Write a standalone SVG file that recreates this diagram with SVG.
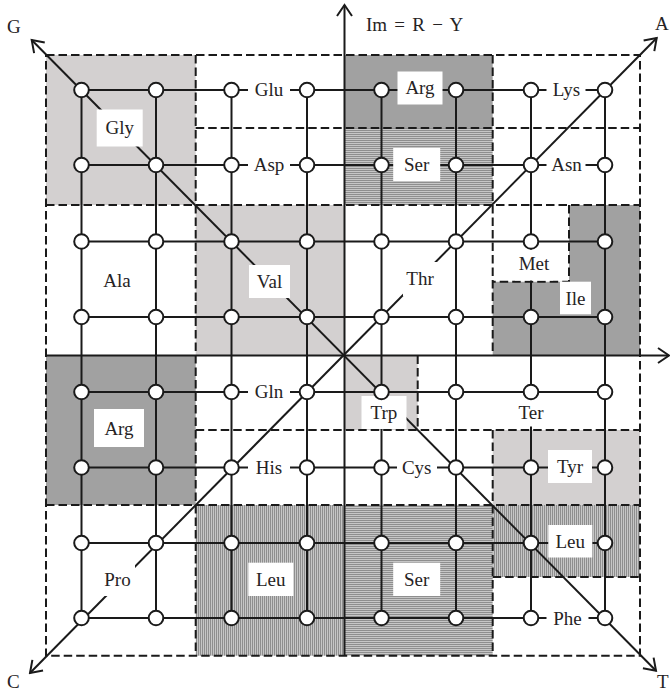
<svg xmlns="http://www.w3.org/2000/svg" width="670" height="693" viewBox="0 0 670 693">
  <style>
    .light { fill: #d3d0d0; }
    .dark { fill: #a1a1a1; }
    .hs { fill: url(#hstripe); }
    .vs { fill: url(#vstripe); }
    .dash { fill: none; stroke: #1a1a1a; stroke-width: 2; stroke-dasharray: 8.5 4; }
    .grid { fill: none; stroke: #1a1a1a; stroke-width: 2; }
    .axis { fill: none; stroke: #1a1a1a; stroke-width: 2; }
    .box { fill: #ffffff; }
    .lbl { font-family: "Liberation Serif", "Times New Roman", serif; font-size: 19px; fill: #262324; text-anchor: middle; }
    .ax { font-family: "Liberation Serif", "Times New Roman", serif; font-size: 19px; fill: #262324; }
    .node circle { fill: #ffffff; stroke: #1a1a1a; stroke-width: 2; }
  </style>
  <defs>
    <pattern id="hstripe" width="4" height="2" patternUnits="userSpaceOnUse">
      <rect width="4" height="2" fill="#c6c6c6"/>
      <rect width="4" height="1" fill="#8e8e8e"/>
    </pattern>
    <pattern id="vstripe" width="2" height="4" patternUnits="userSpaceOnUse">
      <rect width="2" height="4" fill="#c6c6c6"/>
      <rect width="1" height="4" fill="#8e8e8e"/>
    </pattern>
    <marker id="arr" viewBox="-13 -9 15 18" markerWidth="15" markerHeight="18" refX="0" refY="0" orient="auto-start-reverse" markerUnits="userSpaceOnUse">
      <path d="M-11,-7.5 L0,0 L-11,7.5" fill="none" stroke="#1a1a1a" stroke-width="2"/>
    </marker>
  </defs>

  <!-- shaded codon regions -->
  <g id="regions">
    <rect id="reg-gly" class="light" x="46" y="55" width="149.7" height="150"/>
    <rect id="reg-arg-top" class="dark" x="344.5" y="55" width="148.2" height="73"/>
    <rect id="reg-ser-top" class="hs" x="344.5" y="128" width="148.2" height="77"/>
    <rect id="reg-val" class="light" x="195.7" y="205" width="148.8" height="150.5"/>
    <polygon id="reg-ile" class="dark" points="569,205 640,205 640,355.5 492.7,355.5 492.7,281.7 569,281.7"/>
    <rect id="reg-arg-left" class="dark" x="46" y="355.5" width="149.7" height="149.5"/>
    <rect id="reg-trp" class="light" x="344.5" y="355.5" width="73.2" height="74.5"/>
    <rect id="reg-tyr" class="light" x="492.7" y="430" width="147.3" height="75"/>
    <rect id="reg-leu-bottom" class="vs" x="195.7" y="505" width="148.8" height="150.7"/>
    <rect id="reg-ser-bottom" class="hs" x="344.5" y="505" width="148.2" height="150.7"/>
    <rect id="reg-leu-right" class="vs" x="492.7" y="505" width="147.3" height="72"/>
  </g>

  <!-- dashed region borders -->
  <g id="borders">
    <path class="dash" d="M46 55 H640 V655.7 H46 Z"/>
    <path class="dash" d="M195.7 55 V655.7"/>
    <path class="dash" d="M492.7 55 V355.5 M492.7 430 V655.7"/>
    <path class="dash" d="M195.7 128 H640"/>
    <path class="dash" d="M46 205 H640"/>
    <path class="dash" d="M195.7 430 H640"/>
    <path class="dash" d="M46 505 H640"/>
    <path class="dash" d="M492.7 577 H640"/>
    <path class="dash" d="M569 205 V281.7 H492.7"/>
    <path class="dash" d="M417.7 355.5 V430"/>
  </g>

  <!-- connectors: lattice edges and axes -->
  <g id="connectors">
    <path class="grid" d="M81.5 90 H605 M81.5 165 H605 M81.5 241.5 H605 M81.5 317 H605 M81.5 392 H605 M81.5 467.5 H605 M81.5 543 H605 M81.5 618 H605"/>
    <path class="grid" d="M81.5 90 V618 M156 90 V618 M231.5 90 V618 M307 90 V618 M381.5 90 V618 M456 90 V618 M531 90 V618 M605 90 V618"/>
    <line class="axis" x1="344.5" y1="655.7" x2="344.5" y2="5" marker-end="url(#arr)"/>
    <line class="axis" x1="46" y1="355.5" x2="669" y2="355.5" marker-end="url(#arr)"/>
    <line class="axis" x1="31.7" y1="40" x2="656" y2="670.7" marker-start="url(#arr)" marker-end="url(#arr)"/>
    <line class="axis" x1="30" y1="673" x2="656.7" y2="38" marker-start="url(#arr)" marker-end="url(#arr)"/>
  </g>

  <!-- axis labels -->
  <g id="axis-labels">
    <text class="ax" x="7" y="33">G</text>
    <text class="ax" x="655" y="30">A</text>
    <text class="ax" x="7" y="688">C</text>
    <text class="ax" x="657" y="688">T</text>
    <text class="ax" x="366" y="31" word-spacing="2.5">Im = R − Y</text>
  </g>

  <!-- amino acid labels -->
  <g id="labels">
    <g id="lbl-gly"><rect class="box" x="96.7" y="109.5" width="46" height="37"/><text class="lbl" x="119.7" y="134">Gly</text></g>
    <g id="lbl-glu"><rect class="box" x="248" y="80" width="42" height="20"/><text class="lbl" x="269" y="96">Glu</text></g>
    <g id="lbl-asp"><rect class="box" x="248" y="155" width="42" height="20"/><text class="lbl" x="269" y="171">Asp</text></g>
    <g id="lbl-arg-top"><rect class="box" x="397.5" y="71.5" width="45" height="33"/><text class="lbl" x="420" y="94">Arg</text></g>
    <g id="lbl-ser-top"><rect class="box" x="393.2" y="148" width="47" height="33"/><text class="lbl" x="416.7" y="171">Ser</text></g>
    <g id="lbl-lys"><rect class="box" x="546.5" y="80" width="39" height="20"/><text class="lbl" x="566.5" y="96">Lys</text></g>
    <g id="lbl-asn"><rect class="box" x="546.5" y="155" width="39" height="20"/><text class="lbl" x="566.5" y="171">Asn</text></g>
    <g id="lbl-ala"><rect class="box" x="100" y="266" width="34" height="30"/><text class="lbl" x="117" y="287">Ala</text></g>
    <g id="lbl-val"><rect class="box" x="249" y="265" width="41" height="33"/><text class="lbl" x="269.5" y="287.5">Val</text></g>
    <g id="lbl-thr"><rect class="box" x="403" y="262" width="34" height="34"/><text class="lbl" x="420" y="285">Thr</text></g>
    <g id="lbl-met"><rect class="box" x="515" y="249.5" width="38" height="31"/><text class="lbl" x="534" y="270">Met</text></g>
    <g id="lbl-ile"><rect class="box" x="560" y="281.7" width="31" height="32.6"/><text class="lbl" x="575.5" y="304.5">Ile</text></g>
    <g id="lbl-gln"><rect class="box" x="248" y="382" width="42" height="20"/><text class="lbl" x="269" y="398">Gln</text></g>
    <g id="lbl-arg-left"><rect class="box" x="94" y="409" width="50" height="38"/><text class="lbl" x="119" y="434.5">Arg</text></g>
    <g id="lbl-trp"><rect class="box" x="361.5" y="396" width="45" height="33"/><text class="lbl" x="384" y="418.5">Trp</text></g>
    <g id="lbl-ter"><rect class="box" x="514" y="399.5" width="34" height="27"/><text class="lbl" x="531" y="418.5">Ter</text></g>
    <g id="lbl-his"><rect class="box" x="248" y="457.5" width="42" height="20"/><text class="lbl" x="269" y="473.5">His</text></g>
    <g id="lbl-cys"><rect class="box" x="397" y="457.5" width="40" height="20"/><text class="lbl" x="416.7" y="473.5">Cys</text></g>
    <g id="lbl-tyr"><rect class="box" x="548" y="450" width="44" height="33"/><text class="lbl" x="570" y="472.5">Tyr</text></g>
    <g id="lbl-leu-right"><rect class="box" x="548.3" y="525" width="44" height="32.5"/><text class="lbl" x="570.3" y="547.5">Leu</text></g>
    <g id="lbl-pro"><rect class="box" x="100" y="565" width="35" height="31"/><text class="lbl" x="117.5" y="586">Pro</text></g>
    <g id="lbl-leu-bottom"><rect class="box" x="248.3" y="562.7" width="45" height="33.3"/><text class="lbl" x="270.8" y="585.5">Leu</text></g>
    <g id="lbl-ser-bottom"><rect class="box" x="393.2" y="562.7" width="47" height="33.3"/><text class="lbl" x="416.7" y="585.5">Ser</text></g>
    <g id="lbl-phe"><rect class="box" x="546.5" y="608" width="42" height="20"/><text class="lbl" x="567.5" y="624.5">Phe</text></g>
  </g>

  <!-- lattice nodes -->
  <g id="nodes">
    <g id="n00" class="node"><circle cx="81.5" cy="90" r="7.3"/></g>
    <g id="n01" class="node"><circle cx="156" cy="90" r="7.3"/></g>
    <g id="n02" class="node"><circle cx="231.5" cy="90" r="7.3"/></g>
    <g id="n03" class="node"><circle cx="307" cy="90" r="7.3"/></g>
    <g id="n04" class="node"><circle cx="381.5" cy="90" r="7.3"/></g>
    <g id="n05" class="node"><circle cx="456" cy="90" r="7.3"/></g>
    <g id="n06" class="node"><circle cx="531" cy="90" r="7.3"/></g>
    <g id="n07" class="node"><circle cx="605" cy="90" r="7.3"/></g>
    <g id="n10" class="node"><circle cx="81.5" cy="165" r="7.3"/></g>
    <g id="n11" class="node"><circle cx="156" cy="165" r="7.3"/></g>
    <g id="n12" class="node"><circle cx="231.5" cy="165" r="7.3"/></g>
    <g id="n13" class="node"><circle cx="307" cy="165" r="7.3"/></g>
    <g id="n14" class="node"><circle cx="381.5" cy="165" r="7.3"/></g>
    <g id="n15" class="node"><circle cx="456" cy="165" r="7.3"/></g>
    <g id="n16" class="node"><circle cx="531" cy="165" r="7.3"/></g>
    <g id="n17" class="node"><circle cx="605" cy="165" r="7.3"/></g>
    <g id="n20" class="node"><circle cx="81.5" cy="241.5" r="7.3"/></g>
    <g id="n21" class="node"><circle cx="156" cy="241.5" r="7.3"/></g>
    <g id="n22" class="node"><circle cx="231.5" cy="241.5" r="7.3"/></g>
    <g id="n23" class="node"><circle cx="307" cy="241.5" r="7.3"/></g>
    <g id="n24" class="node"><circle cx="381.5" cy="241.5" r="7.3"/></g>
    <g id="n25" class="node"><circle cx="456" cy="241.5" r="7.3"/></g>
    <g id="n26" class="node"><circle cx="531" cy="241.5" r="7.3"/></g>
    <g id="n27" class="node"><circle cx="605" cy="241.5" r="7.3"/></g>
    <g id="n30" class="node"><circle cx="81.5" cy="317" r="7.3"/></g>
    <g id="n31" class="node"><circle cx="156" cy="317" r="7.3"/></g>
    <g id="n32" class="node"><circle cx="231.5" cy="317" r="7.3"/></g>
    <g id="n33" class="node"><circle cx="307" cy="317" r="7.3"/></g>
    <g id="n34" class="node"><circle cx="381.5" cy="317" r="7.3"/></g>
    <g id="n35" class="node"><circle cx="456" cy="317" r="7.3"/></g>
    <g id="n36" class="node"><circle cx="531" cy="317" r="7.3"/></g>
    <g id="n37" class="node"><circle cx="605" cy="317" r="7.3"/></g>
    <g id="n40" class="node"><circle cx="81.5" cy="392" r="7.3"/></g>
    <g id="n41" class="node"><circle cx="156" cy="392" r="7.3"/></g>
    <g id="n42" class="node"><circle cx="231.5" cy="392" r="7.3"/></g>
    <g id="n43" class="node"><circle cx="307" cy="392" r="7.3"/></g>
    <g id="n44" class="node"><circle cx="381.5" cy="392" r="7.3"/></g>
    <g id="n45" class="node"><circle cx="456" cy="392" r="7.3"/></g>
    <g id="n46" class="node"><circle cx="531" cy="392" r="7.3"/></g>
    <g id="n47" class="node"><circle cx="605" cy="392" r="7.3"/></g>
    <g id="n50" class="node"><circle cx="81.5" cy="467.5" r="7.3"/></g>
    <g id="n51" class="node"><circle cx="156" cy="467.5" r="7.3"/></g>
    <g id="n52" class="node"><circle cx="231.5" cy="467.5" r="7.3"/></g>
    <g id="n53" class="node"><circle cx="307" cy="467.5" r="7.3"/></g>
    <g id="n54" class="node"><circle cx="381.5" cy="467.5" r="7.3"/></g>
    <g id="n55" class="node"><circle cx="456" cy="467.5" r="7.3"/></g>
    <g id="n56" class="node"><circle cx="531" cy="467.5" r="7.3"/></g>
    <g id="n57" class="node"><circle cx="605" cy="467.5" r="7.3"/></g>
    <g id="n60" class="node"><circle cx="81.5" cy="543" r="7.3"/></g>
    <g id="n61" class="node"><circle cx="156" cy="543" r="7.3"/></g>
    <g id="n62" class="node"><circle cx="231.5" cy="543" r="7.3"/></g>
    <g id="n63" class="node"><circle cx="307" cy="543" r="7.3"/></g>
    <g id="n64" class="node"><circle cx="381.5" cy="543" r="7.3"/></g>
    <g id="n65" class="node"><circle cx="456" cy="543" r="7.3"/></g>
    <g id="n66" class="node"><circle cx="531" cy="543" r="7.3"/></g>
    <g id="n67" class="node"><circle cx="605" cy="543" r="7.3"/></g>
    <g id="n70" class="node"><circle cx="81.5" cy="618" r="7.3"/></g>
    <g id="n71" class="node"><circle cx="156" cy="618" r="7.3"/></g>
    <g id="n72" class="node"><circle cx="231.5" cy="618" r="7.3"/></g>
    <g id="n73" class="node"><circle cx="307" cy="618" r="7.3"/></g>
    <g id="n74" class="node"><circle cx="381.5" cy="618" r="7.3"/></g>
    <g id="n75" class="node"><circle cx="456" cy="618" r="7.3"/></g>
    <g id="n76" class="node"><circle cx="531" cy="618" r="7.3"/></g>
    <g id="n77" class="node"><circle cx="605" cy="618" r="7.3"/></g>
  </g>
</svg>
